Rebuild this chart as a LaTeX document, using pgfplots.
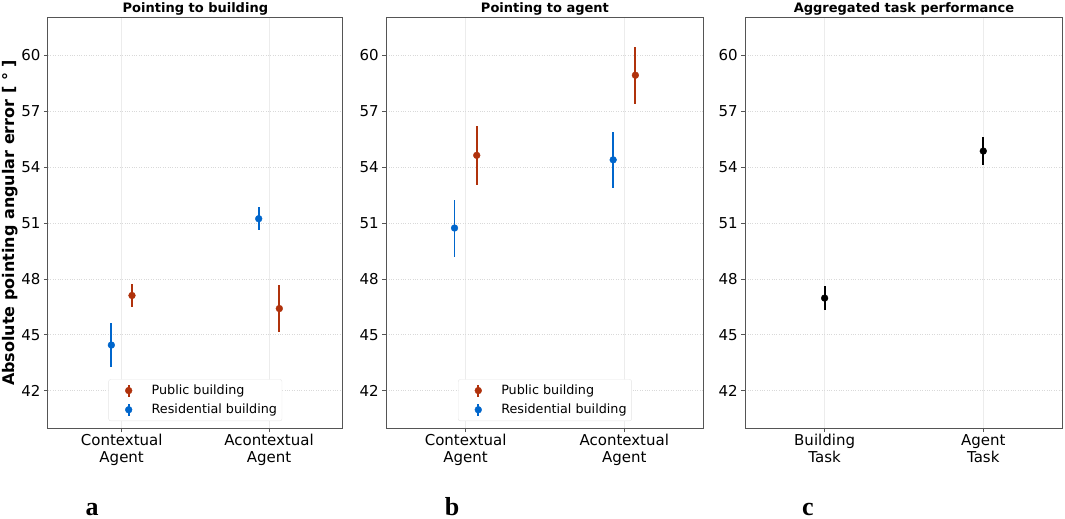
\documentclass[border=0pt]{standalone}
\usepackage{pgfplots}
\pgfplotsset{compat=1.18}
\usepackage{fontspec}
\setmainfont{DejaVu Sans}
\newfontfamily\letterfont{Liberation Serif}
\definecolor{pubc}{HTML}{B0320C}
\definecolor{resc}{HTML}{0066CC}
\definecolor{frame}{HTML}{555555}

\pgfplotsset{
  myax/.style={
    scale only axis,
    height=410bp,
    ymin=40, ymax=62,
    xmin=-0.5, xmax=1.5,
    ytick={42,45,48,51,54,57,60},
    xtick={0,1},
    xtick pos=bottom, ytick pos=left,
    tick align=outside,
    major tick length=4bp,
    tick style={frame, line width=0.7bp},
    axis line style={frame, line width=1bp},
    /pgf/number format/assume math mode=true,
    ticklabel style={font=\fontsize{15bp}{17bp}\selectfont},
    xticklabel style={align=center, yshift=1bp},
    grid=major,
    y grid style={gray!30, dotted, line width=0.8bp},
    x grid style={gray!15, line width=0.8bp},
    title style={at={(0.5,1)}, anchor=base, yshift=0bp, font=\fontsize{13bp}{15bp}\selectfont\bfseries},
    legend style={at={(0.5,0.017)}, anchor=south, font=\fontsize{12.75bp}{15bp}\selectfont,
      draw=gray!20, rounded corners=2bp, row sep=4bp, inner xsep=3bp, inner ysep=3.5bp,
      cells={anchor=west}},
    legend cell align=left,
    clip=false,
  },
  legimg/.style={legend image code/.code={
      \path[draw=none, fill=none] (0bp,0bp) -- (38bp,0bp);
      \draw[line width=1.8bp, #1] (17bp,-6bp) -- (17bp,6bp);
      \fill[#1] (17bp,0bp) circle (3.4bp);}},
  ebar/.style={
    only marks, mark=*, mark size=3.4bp, color=#1, mark options={fill=#1, draw=#1},
    error bars/.cd, y dir=both, y explicit,
    error bar style={line width=1.8bp, color=#1},
    error mark=none,
  },
}

\begin{document}
\begin{tikzpicture}
\useasboundingbox (0bp,0bp) rectangle (1065bp,519bp);

% Panel a
\begin{axis}[myax, at={(48bp,91bp)}, anchor=south west, width=294.7bp,
  title={Pointing to building},
  xticklabels={Contextual\\Agent, Acontextual\\Agent},
  ylabel={Absolute pointing angular error [ ° ]},
  ylabel style={at={(axis description cs:-0.112,0.5)}, anchor=base, inner sep=0pt,
    font=\fontsize{16bp}{18bp}\selectfont\bfseries},
]
\addplot[legimg=pubc, ebar=pubc] coordinates {
  (0.07,47.11) +- (0,0.64)
  (1.07,46.41) +- (0,1.27)
};
\addlegendentry{Public building}
\addplot[legimg=resc, ebar=resc] coordinates {
  (-0.07,44.45) +- (0,1.20)
  (0.93,51.23) +- (0,0.63)
};
\addlegendentry{Residential building}
\end{axis}

% Panel b
\begin{axis}[myax, at={(386.3bp,91bp)}, anchor=south west, width=317.3bp,
  title={Pointing to agent},
  xticklabels={Contextual\\Agent, Acontextual\\Agent},
]
\addplot[legimg=pubc, ebar=pubc] coordinates {
  (0.07,54.63) +- (0,1.59)
  (1.07,58.93) +- (0,1.52)
};
\addlegendentry{Public building}
\addplot[legimg=resc, ebar=resc] coordinates {
  (-0.07,50.73) +- (0,1.53)
  (0.93,54.39) +- (0,1.50)
};
\addlegendentry{Residential building}
\end{axis}

% Panel c
\begin{axis}[myax, at={(745.3bp,91bp)}, anchor=south west, width=317.3bp,
  title={Aggregated task performance},
  xticklabels={Building\\Task, Agent\\Task},
]
\addplot[ebar=black] coordinates {
  (0,46.97) +- (0,0.63)
  (1,54.86) +- (0,0.77)
};
\end{axis}

\node[anchor=base, inner sep=0pt, font=\fontsize{26bp}{28bp}\selectfont\letterfont\bfseries] at (92bp,4bp) {a};
\node[anchor=base, inner sep=0pt, font=\fontsize{26bp}{28bp}\selectfont\letterfont\bfseries] at (452bp,4bp) {b};
\node[anchor=base, inner sep=0pt, font=\fontsize{26bp}{28bp}\selectfont\letterfont\bfseries] at (808bp,4bp) {c};
\end{tikzpicture}
\end{document}
